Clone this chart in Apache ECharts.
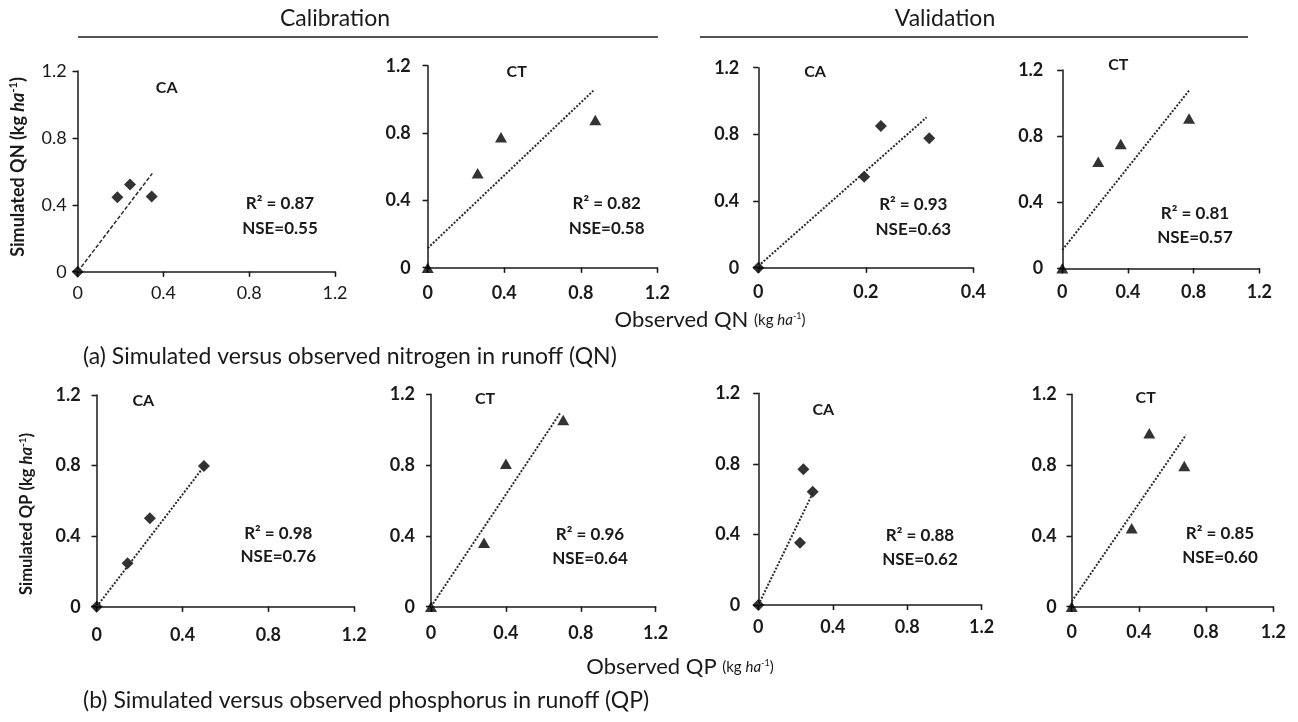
<!DOCTYPE html>
<html>
<head>
<meta charset="utf-8">
<script src="https://cdn.jsdelivr.net/npm/echarts@6/dist/echarts.min.js"></script>
<style>
html,body{margin:0;padding:0;background:#fff;}
#chart{width:1298px;height:722px;}
</style>
</head>
<body>
<div id="chart"></div>
<script>
// ---------- DATA (observed, simulated) ----------
const qnCalCA = [[0,0],[0.185,0.445],[0.244,0.522],[0.345,0.45]];
const qnCalCT = [[0,0],[0.261,0.561],[0.383,0.775],[0.876,0.878]];
const qnValCA = [[0,0],[0.197,0.546],[0.228,0.850],[0.318,0.776]];
const qnValCT = [[0,0],[0.219,0.645],[0.356,0.752],[0.772,0.907]];
const qpCalCA = [[0,0],[0.144,0.246],[0.248,0.501],[0.500,0.797]];
const qpCalCT = [[0,0],[0.283,0.362],[0.400,0.807],[0.706,1.055]];
const qpValCA = [[0,0],[0.224,0.353],[0.242,0.769],[0.292,0.642]];
const qpValCT = [[0,0],[0.357,0.443],[0.462,0.980],[0.670,0.795]];

// trend lines (start, end)
const qnCalCATrend = [[0,0],[0.348,0.588]];
const qnCalCTTrend = [[0,0.116],[0.866,1.052]];
const qnValCATrend = [[0,0.01],[0.313,0.902]];
const qnValCTTrend = [[0,0.111],[0.778,1.083]];
const qpCalCATrend = [[0,0],[0.505,0.803]];
const qpCalCTTrend = [[0,0],[0.689,1.093]];
const qpValCATrend = [[0,0],[0.292,0.633]];
const qpValCTTrend = [[0,0.03],[0.68,0.97]];

const treatments = ['CA','CT','CA','CT','CA','CT','CA','CT'];
const r2Labels  = ['R² = 0.87','R² = 0.82','R² = 0.93','R² = 0.81','R² = 0.98','R² = 0.96','R² = 0.88','R² = 0.85'];
const nseLabels = ['NSE=0.55','NSE=0.58','NSE=0.63','NSE=0.57','NSE=0.76','NSE=0.64','NSE=0.62','NSE=0.60'];
const xMaxes = [1.2,1.2,0.4,1.2,1.2,1.2,1.2,1.2];
const xIntervals = [0.4,0.4,0.2,0.4,0.4,0.4,0.4,0.4];
const yMax = 1.2, yInterval = 0.4;

const panelData = [qnCalCA,qnCalCT,qnValCA,qnValCT,qpCalCA,qpCalCT,qpValCA,qpValCT];
const panelTrend = [qnCalCATrend,qnCalCTTrend,qnValCATrend,qnValCTTrend,qpCalCATrend,qpCalCTTrend,qpValCATrend,qpValCTTrend];

// ---------- LAYOUT ----------
const grids = [
  {left:77.7, top:71,    width:257.3, height:200.7},
  {left:427.7,top:65.7,  width:229.6, height:202},
  {left:758.3,top:67.7,  width:215,   height:200},
  {left:1062.3,top:70,   width:197,   height:198.3},
  {left:96.7, top:395,   width:257.4, height:211.7},
  {left:431,  top:394.3, width:224.7, height:212.4},
  {left:758.3,top:393.3, width:223.4, height:211.7},
  {left:1071.7,top:394.3,width:201.6, height:212.4}
];
const yLabelMargin = [11,17,19,19,16,16,18,15];
const xLabelMargin = [12,16,15,15,19,17,13,16];
const labelPos = [ // [treatment label], [R2 center], [NSE center]
  [[166.7,88],[280,204],[280,229]],
  [[516.7,72],[606.7,204],[606.7,228.3]],
  [[815,72],[913.3,205],[913.3,229.3]],
  [[1118.3,65],[1195,213.3],[1195,237.3]],
  [[143.3,401],[278.3,533.3],[278.3,556.7]],
  [[485,399.3],[590,535],[590,558.3]],
  [[823.3,410],[920,536],[920,560]],
  [[1145.7,398],[1220,533.3],[1220,557.3]]
];

const FONT = 'Lato, "Open Sans", "Liberation Sans", sans-serif';
const INK = '#1a1a1a';

const option = {
  animation:false,
  backgroundColor:'#fff',
  grid:[], xAxis:[], yAxis:[], series:[], graphic:[]
};

grids.forEach((g,i)=>{
  option.grid.push(Object.assign({containLabel:false}, g));
  const bold = i===0 ? 'normal' : 'bold';
  const common = {gridIndex:i, type:'value', min:0, splitLine:{show:false}};
  option.xAxis.push(Object.assign({}, common, {
    max:xMaxes[i], interval:xIntervals[i],
    axisLine:{show:true, onZero:false, lineStyle:{color:INK,width:1.5}},
    axisTick:{show:true, inside:false, length:5, lineStyle:{color:INK,width:1.3}},
    axisLabel:{show:true, margin:xLabelMargin[i], color:INK, fontSize:18, fontWeight:bold, fontFamily:FONT,
      formatter:v=>(Math.round(v*10)/10).toString()}
  }));
  option.yAxis.push(Object.assign({}, common, {
    max:yMax, interval:yInterval,
    axisLine:{show:true, onZero:false, lineStyle:{color:INK,width:1.5}},
    axisTick:{show:true, inside:false, length:5, lineStyle:{color:INK,width:1.3}},
    axisLabel:{show:true, margin:yLabelMargin[i], color:INK, fontSize:18, fontWeight:bold, fontFamily:FONT,
      formatter:v=>(Math.round(v*10)/10).toString()}
  }));
  // twin axes: inside half of the crossing ticks
  option.xAxis.push(Object.assign({}, common, {
    max:xMaxes[i], interval:xIntervals[i],
    axisLine:{show:false}, axisLabel:{show:false},
    axisTick:{show:true, inside:true, length:5, lineStyle:{color:INK,width:1.3}}
  }));
  option.yAxis.push(Object.assign({}, common, {
    max:yMax, interval:yInterval,
    axisLine:{show:false}, axisLabel:{show:false},
    axisTick:{show:true, inside:true, length:5, lineStyle:{color:INK,width:1.3}}
  }));
  const xi = i*2, yi = i*2;
  option.series.push({
    type:'line', xAxisIndex:xi, yAxisIndex:yi, data:panelTrend[i],
    symbol:'none', silent:true,
    lineStyle:{color:'#2a2a2a', width: i===0?1.5:2, type: i===0?[4,2]:[2,1.6]}
  });
  const isCT = treatments[i]==='CT';
  option.series.push({
    type:'scatter', xAxisIndex:xi, yAxisIndex:yi, data:panelData[i],
    symbol: isCT ? 'triangle' : 'diamond',
    symbolSize: isCT ? [12,10.5] : [12,12],
    itemStyle:{color:'#000'}
  });
  const lp = labelPos[i];
  option.graphic.push({type:'text', x:lp[0][0], y:lp[0][1], style:{text:treatments[i], fill:INK,
    fontSize:16, fontWeight:'bold', fontFamily:FONT, align:'center', verticalAlign:'middle'}});
  option.graphic.push({type:'text', x:lp[1][0], y:lp[1][1], style:{text:r2Labels[i], fill:INK,
    fontSize:17, fontWeight:'bold', fontFamily:FONT, align:'center', verticalAlign:'middle'}});
  option.graphic.push({type:'text', x:lp[2][0], y:lp[2][1], style:{text:nseLabels[i], fill:INK,
    fontSize:17, fontWeight:'bold', fontFamily:FONT, align:'center', verticalAlign:'middle'}});
});

// headers
option.graphic.push(
  {type:'text', x:335, y:19, style:{text:'Calibration', fill:INK, fontSize:23, fontFamily:FONT, align:'center', verticalAlign:'middle'}},
  {type:'text', x:945, y:19, style:{text:'Validation', fill:INK, fontSize:23, fontFamily:FONT, align:'center', verticalAlign:'middle'}},
  {type:'line', shape:{x1:78,y1:37,x2:658,y2:37}, style:{stroke:INK, lineWidth:1.5}},
  {type:'line', shape:{x1:700,y1:37,x2:1248,y2:37}, style:{stroke:INK, lineWidth:1.5}}
);

function axisTitle(x,y,q,rot,size,weight){
  return {type:'text', x:x, y:y, rotation:rot, style:{
    text:'{a|'+q+' (kg }{i|ha}{s|-1}{a|)}',
    fill:INK, align:'center', verticalAlign:'middle',
    rich:{
      a:{fontSize:size, fontWeight:weight, fontFamily:FONT, fill:INK},
      i:{fontSize:size, fontWeight:weight, fontStyle:'italic', fontFamily:FONT, fill:INK},
      s:{fontSize:Math.round(size*0.6), fontWeight:weight, fontFamily:FONT, fill:INK, padding:[0,0,9,0]}
    }
  }};
}
function obsTitle(x,y,q){
  return {type:'text', x:x, y:y, style:{
    text:'{a|Observed '+q+' }{b|(kg }{i|ha}{s|-1}{b|)}',
    fill:INK, align:'center', verticalAlign:'middle',
    rich:{
      a:{fontSize:22, fontFamily:FONT, fill:INK},
      b:{fontSize:15, fontFamily:FONT, fill:INK},
      i:{fontSize:15, fontStyle:'italic', fontFamily:FONT, fill:INK},
      s:{fontSize:9, fontFamily:FONT, fill:INK, padding:[0,0,7,0]}
    }
  }};
}
option.graphic.push(
  axisTitle(18,167,'Simulated QN',Math.PI/2,18,'bold'),
  axisTitle(27,514,'Simulated QP',Math.PI/2,16.5,'bold'),
  obsTitle(710,320,'QN'),
  obsTitle(680,667,'QP'),
  {type:'text', x:83, y:357, style:{text:'(a) Simulated versus observed nitrogen in runoff (QN)', fill:INK, fontSize:23, fontFamily:FONT, align:'left', verticalAlign:'middle'}},
  {type:'text', x:83, y:701, style:{text:'(b) Simulated versus observed phosphorus in runoff (QP)', fill:INK, fontSize:23, fontFamily:FONT, align:'left', verticalAlign:'middle'}}
);

const chart = echarts.init(document.getElementById('chart'), null, {renderer:'canvas'});
chart.setOption(option);
</script>
</body>
</html>
